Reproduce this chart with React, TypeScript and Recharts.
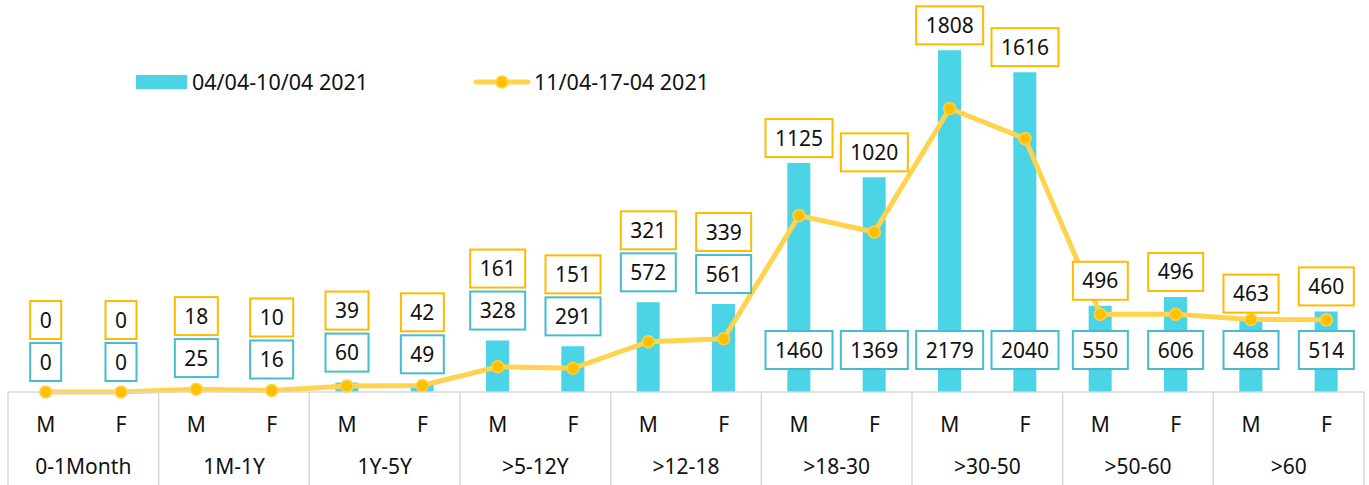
import { ComposedChart, Bar, Line, XAxis, YAxis, LabelList } from "recharts";

const groups = ["0-1Month", "1M-1Y", "1Y-5Y", ">5-12Y", ">12-18", ">18-30", ">30-50", ">50-60", ">60"];
const sexes = ["M", "F"];
const week1 = [0, 0, 25, 16, 60, 49, 328, 291, 572, 561, 1460, 1369, 2179, 2040, 550, 606, 468, 514];
const week2 = [0, 0, 18, 10, 39, 42, 161, 151, 321, 339, 1125, 1020, 1808, 1616, 496, 496, 463, 460];
const seriesNames = ["04/04-10/04 2021", "11/04-17-04 2021"];

const data = week1.map((v, i) => ({
  key: `${i}`,
  sex: sexes[i % 2],
  group: groups[Math.floor(i / 2)],
  week1: v,
  week2: week2[i],
}));

const W = 1369;
const H = 485;
const M_LEFT = 8;
const M_RIGHT = 5;
const AXIS_H = 93;
const PLOT_BOTTOM = H - AXIS_H;
const Y_MAX = 2500;
const BAND = (W - M_LEFT - M_RIGHT) / data.length;

const BAR_COLOR = "#4BD3E6";
const BAR_BOX = "#45BCD2";
const LINE_COLOR = "#FFD34D";
const DOT_COLOR = "#FFC000";
const LINE_BOX = "#FFBA00";
const GRID = "#D9D9D9";
const FONT = "'Noto Sans', sans-serif";

const toPx = (v: number) => PLOT_BOTTOM - (v / Y_MAX) * PLOT_BOTTOM;

// bar labels sit inside the bar foot when the bar is tall and the line sits close to it
const barInside = (i: number) => {
  const b = week1[i];
  return b >= 400 && (b >= 1000 || week2[i] / b > 0.8);
};
const barLabelY = (i: number) => (barInside(i) ? PLOT_BOTTOM - 42 : Math.min(toPx(week1[i]) - 30, PLOT_BOTTOM - 26));
const lineLabelY = (i: number) => {
  if (!barInside(i)) return barLabelY(i) - 42;
  return Math.min(toPx(week1[i]), toPx(week2[i])) - 25;
};

const Box = ({ cx, cy, text, color }: { cx: number; cy: number; text: string; color: string }) => {
  const w = text.length * 12 + 19;
  const h = 38;
  return (
    <g>
      <rect x={cx - w / 2} y={cy - h / 2} width={w} height={h} fill="#fff" stroke={color} strokeWidth={2} />
      <text x={cx} y={cy + 7.5} textAnchor="middle" fontSize={21} fontFamily={FONT} fill="#111">
        {text}
      </text>
    </g>
  );
};

const PointLabels = (props: any) => {
  const { x, index } = props;
  return (
    <g>
      <Box cx={x} cy={barLabelY(index)} text={String(week1[index])} color={BAR_BOX} />
      <Box cx={x} cy={lineLabelY(index)} text={String(week2[index])} color={LINE_BOX} />
    </g>
  );
};

const AxisTick = (props: any) => {
  const { x, index } = props;
  const d = data[index];
  return (
    <g>
      <text x={x} y={432} textAnchor="middle" fontSize={21} fontFamily={FONT} fill="#111">
        {d.sex}
      </text>
      {index % 2 === 0 && (
        <>
          <line x1={x - BAND / 2} x2={x - BAND / 2} y1={PLOT_BOTTOM} y2={H} stroke={GRID} strokeWidth={1.5} />
          <text x={x + BAND / 2} y={474} textAnchor="middle" fontSize={21} fontFamily={FONT} fill="#111">
            {d.group}
          </text>
        </>
      )}
      {index === data.length - 1 && (
        <line x1={x + BAND / 2} x2={x + BAND / 2} y1={PLOT_BOTTOM} y2={H} stroke={GRID} strokeWidth={1.5} />
      )}
    </g>
  );
};

const LegendBox = () => (
  <svg width={620} height={40} style={{ position: "absolute", left: 130, top: 62 }}>
    <rect x={6} y={13} width={51} height={14} fill={BAR_COLOR} />
    <text x={62} y={28} fontSize={21.5} fontFamily={FONT} fill="#111">
      {seriesNames[0]}
    </text>
    <line x1={346} x2={398} y1={20} y2={20} stroke={LINE_COLOR} strokeWidth={5} strokeLinecap="round" />
    <circle cx={372} cy={20} r={6} fill={DOT_COLOR} stroke={LINE_COLOR} strokeWidth={1.5} />
    <text x={404} y={28} fontSize={21.5} fontFamily={FONT} fill="#111">
      {seriesNames[1]}
    </text>
  </svg>
);

export default function App() {
  return (
    <div style={{ position: "absolute", left: 0, top: 0, width: W, height: H, background: "#fff" }}>
      <ComposedChart
        width={W}
        height={H}
        data={data}
        margin={{ top: 0, right: M_RIGHT, bottom: 0, left: M_LEFT }}
      >
        <XAxis
          dataKey="key"
          height={AXIS_H}
          interval={0}
          tickLine={false}
          axisLine={{ stroke: GRID, strokeWidth: 1.5 }}
          tick={<AxisTick />}
        />
        <YAxis hide domain={[0, Y_MAX]} />
        <Bar dataKey="week1" name={seriesNames[0]} fill={BAR_COLOR} barSize={23} isAnimationActive={false} />
        <Line
          dataKey="week2"
          name={seriesNames[1]}
          type="linear"
          stroke={LINE_COLOR}
          strokeWidth={5}
          dot={{ r: 6, fill: DOT_COLOR, stroke: LINE_COLOR, strokeWidth: 1.5 }}
          activeDot={false}
          isAnimationActive={false}
        >
          <LabelList dataKey="week2" content={<PointLabels />} />
        </Line>
      </ComposedChart>
      <LegendBox />
    </div>
  );
}
